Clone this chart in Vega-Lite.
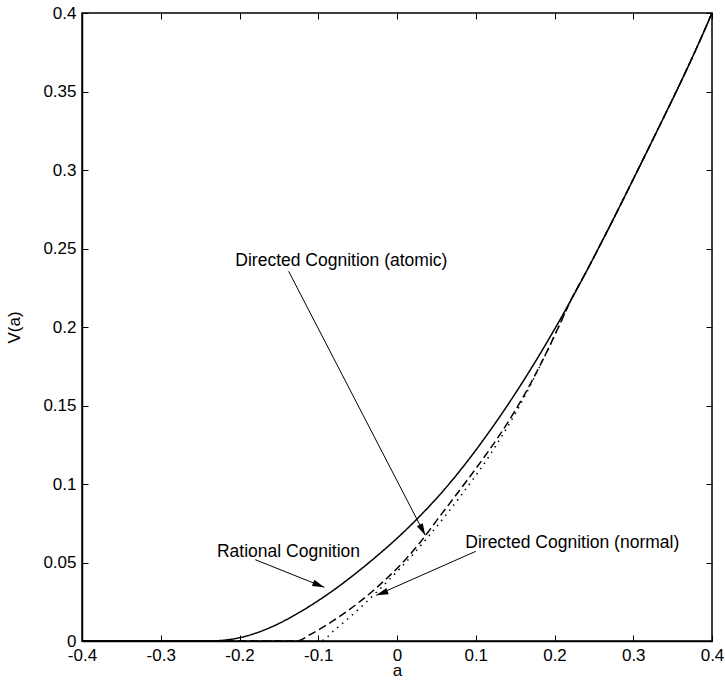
{
  "$schema": "https://vega.github.io/schema/vega-lite/v6.json",
  "autosize": "none",
  "width": 630,
  "height": 628,
  "padding": {"left": 82, "top": 13, "right": 13, "bottom": 43},
  "background": "white",
  "config": {
    "font": "Liberation Sans",
    "view": {"stroke": "black", "strokeWidth": 1.5},
    "axis": {
      "grid": false,
      "domainColor": "black",
      "domainWidth": 1.5,
      "tickColor": "black",
      "tickWidth": 1,
      "labelFont": "Liberation Sans",
      "labelFontSize": 17,
      "labelColor": "black",
      "titleFont": "Liberation Sans",
      "titleFontSize": 17,
      "titleFontWeight": "normal",
      "titleColor": "black"
    }
  },
  "datasets": {
    "curves": [
      {"series": "Rational", "a": -0.4, "v": 0},
      {"series": "Rational", "a": -0.3, "v": 0},
      {"series": "Rational", "a": -0.24, "v": 0},
      {"series": "Rational", "a": -0.22, "v": 0.0005},
      {"series": "Rational", "a": -0.2, "v": 0.0021},
      {"series": "Rational", "a": -0.18, "v": 0.0049},
      {"series": "Rational", "a": -0.16, "v": 0.0088},
      {"series": "Rational", "a": -0.14, "v": 0.0137},
      {"series": "Rational", "a": -0.12, "v": 0.0194},
      {"series": "Rational", "a": -0.1, "v": 0.0257},
      {"series": "Rational", "a": -0.08, "v": 0.0326},
      {"series": "Rational", "a": -0.06, "v": 0.0401},
      {"series": "Rational", "a": -0.04, "v": 0.0481},
      {"series": "Rational", "a": -0.02, "v": 0.0565},
      {"series": "Rational", "a": 0, "v": 0.0654},
      {"series": "Rational", "a": 0.02, "v": 0.075},
      {"series": "Rational", "a": 0.04, "v": 0.0853},
      {"series": "Rational", "a": 0.06, "v": 0.0964},
      {"series": "Rational", "a": 0.08, "v": 0.1085},
      {"series": "Rational", "a": 0.1, "v": 0.1215},
      {"series": "Rational", "a": 0.12, "v": 0.1353},
      {"series": "Rational", "a": 0.14, "v": 0.1499},
      {"series": "Rational", "a": 0.16, "v": 0.1653},
      {"series": "Rational", "a": 0.18, "v": 0.1815},
      {"series": "Rational", "a": 0.2, "v": 0.1985},
      {"series": "Rational", "a": 0.22, "v": 0.2163},
      {"series": "Rational", "a": 0.24, "v": 0.2349},
      {"series": "Rational", "a": 0.26, "v": 0.2542},
      {"series": "Rational", "a": 0.28, "v": 0.274},
      {"series": "Rational", "a": 0.3, "v": 0.2941},
      {"series": "Rational", "a": 0.32, "v": 0.3144},
      {"series": "Rational", "a": 0.34, "v": 0.3349},
      {"series": "Rational", "a": 0.36, "v": 0.3556},
      {"series": "Rational", "a": 0.38, "v": 0.3772},
      {"series": "Rational", "a": 0.4, "v": 0.4},
      {"series": "Atomic", "a": -0.4, "v": 0},
      {"series": "Atomic", "a": -0.127, "v": 0},
      {"series": "Atomic", "a": -0.11, "v": 0.0042},
      {"series": "Atomic", "a": -0.09, "v": 0.01},
      {"series": "Atomic", "a": -0.07, "v": 0.0166},
      {"series": "Atomic", "a": -0.05, "v": 0.024},
      {"series": "Atomic", "a": -0.03, "v": 0.0322},
      {"series": "Atomic", "a": -0.01, "v": 0.0413},
      {"series": "Atomic", "a": 0.01, "v": 0.0515},
      {"series": "Atomic", "a": 0.03, "v": 0.0632},
      {"series": "Atomic", "a": 0.05, "v": 0.0765},
      {"series": "Atomic", "a": 0.07, "v": 0.0897},
      {"series": "Atomic", "a": 0.09, "v": 0.103},
      {"series": "Atomic", "a": 0.11, "v": 0.1166},
      {"series": "Atomic", "a": 0.13, "v": 0.131},
      {"series": "Atomic", "a": 0.15, "v": 0.1467},
      {"series": "Atomic", "a": 0.17, "v": 0.1643},
      {"series": "Atomic", "a": 0.19, "v": 0.184},
      {"series": "Atomic", "a": 0.21, "v": 0.2053},
      {"series": "Atomic", "a": 0.22, "v": 0.2163},
      {"series": "Atomic", "a": 0.24, "v": 0.2349},
      {"series": "Atomic", "a": 0.26, "v": 0.2542},
      {"series": "Atomic", "a": 0.28, "v": 0.274},
      {"series": "Atomic", "a": 0.3, "v": 0.2941},
      {"series": "Atomic", "a": 0.32, "v": 0.3144},
      {"series": "Atomic", "a": 0.34, "v": 0.3349},
      {"series": "Atomic", "a": 0.36, "v": 0.3556},
      {"series": "Atomic", "a": 0.38, "v": 0.3772},
      {"series": "Atomic", "a": 0.4, "v": 0.4},
      {"series": "Normal", "a": -0.4, "v": 0},
      {"series": "Normal", "a": -0.097, "v": 0},
      {"series": "Normal", "a": -0.08, "v": 0.0067},
      {"series": "Normal", "a": -0.06, "v": 0.0152},
      {"series": "Normal", "a": -0.04, "v": 0.0243},
      {"series": "Normal", "a": -0.02, "v": 0.034},
      {"series": "Normal", "a": 0, "v": 0.0442},
      {"series": "Normal", "a": 0.02, "v": 0.055},
      {"series": "Normal", "a": 0.04, "v": 0.0666},
      {"series": "Normal", "a": 0.06, "v": 0.0789},
      {"series": "Normal", "a": 0.08, "v": 0.0918},
      {"series": "Normal", "a": 0.1, "v": 0.1054},
      {"series": "Normal", "a": 0.12, "v": 0.12},
      {"series": "Normal", "a": 0.13, "v": 0.128},
      {"series": "Normal", "a": 0.15, "v": 0.1447},
      {"series": "Normal", "a": 0.17, "v": 0.1635},
      {"series": "Normal", "a": 0.19, "v": 0.1838},
      {"series": "Normal", "a": 0.21, "v": 0.2053},
      {"series": "Normal", "a": 0.22, "v": 0.2163},
      {"series": "Normal", "a": 0.24, "v": 0.2349},
      {"series": "Normal", "a": 0.26, "v": 0.2542},
      {"series": "Normal", "a": 0.28, "v": 0.274},
      {"series": "Normal", "a": 0.3, "v": 0.2941},
      {"series": "Normal", "a": 0.32, "v": 0.3144},
      {"series": "Normal", "a": 0.34, "v": 0.3349},
      {"series": "Normal", "a": 0.36, "v": 0.3556},
      {"series": "Normal", "a": 0.38, "v": 0.3772},
      {"series": "Normal", "a": 0.4, "v": 0.4}
    ],
    "labels": [
      {"label": "Directed Cognition (atomic)", "a": -0.2053, "v": 0.2418},
      {"label": "Rational Cognition", "a": -0.2286, "v": 0.0567},
      {"label": "Directed Cognition (normal)", "a": 0.0867, "v": 0.0625}
    ],
    "arrows": [
      {"name": "atomic", "a": -0.1376, "v": 0.2355, "a2": 0.0359, "v2": 0.0673},
      {"name": "rational", "a": -0.18, "v": 0.0518, "a2": -0.0923, "v2": 0.0342},
      {"name": "normal", "a": 0.1, "v": 0.0571, "a2": -0.0263, "v2": 0.0291}
    ]
  },
  "resolve": {"axis": {"x": "independent", "y": "independent"}},
  "layer": [
    {
      "data": {"name": "curves"},
      "mark": {"type": "line", "color": "black", "strokeWidth": 1.5, "interpolate": "monotone"},
      "encoding": {
        "x": {
          "field": "a", "type": "quantitative",
          "scale": {"domain": [-0.4, 0.4], "nice": false, "zero": false},
          "axis": {
            "orient": "bottom", "title": "a",
            "values": [-0.4, -0.3, -0.2, -0.1, 0, 0.1, 0.2, 0.3, 0.4],
            "labelExpr": "'' + datum.value",
            "tickSize": -6, "labelPadding": 12, "titlePadding": -1,
            "labelFlush": false, "labelOverlap": false
          }
        },
        "y": {
          "field": "v", "type": "quantitative",
          "scale": {"domain": [0, 0.4], "nice": false, "zero": false},
          "axis": {
            "orient": "left", "title": "V(a)",
            "values": [0, 0.05, 0.1, 0.15, 0.2, 0.25, 0.3, 0.35, 0.4],
            "labelExpr": "'' + datum.value",
            "tickSize": -6, "labelPadding": 12, "titlePadding": 19,
            "labelFlush": false, "labelOverlap": false
          }
        },
        "detail": {"field": "series"},
        "strokeDash": {
          "field": "series", "type": "nominal",
          "scale": {"domain": ["Rational", "Atomic", "Normal"], "range": [[1, 0], [8, 4], [1.5, 5]]},
          "legend": null
        }
      }
    },
    {
      "data": {"name": "labels"},
      "mark": {"type": "text", "align": "left", "baseline": "middle", "fontSize": 17.5, "font": "Liberation Sans", "color": "black"},
      "encoding": {
        "x": {
          "field": "a", "type": "quantitative",
          "scale": {"domain": [-0.4, 0.4], "nice": false, "zero": false},
          "axis": {"orient": "top", "title": null, "labels": false, "domain": false,
                   "values": [-0.4, -0.3, -0.2, -0.1, 0, 0.1, 0.2, 0.3, 0.4], "tickSize": -6}
        },
        "y": {
          "field": "v", "type": "quantitative",
          "scale": {"domain": [0, 0.4], "nice": false, "zero": false},
          "axis": {"orient": "right", "title": null, "labels": false, "domain": false,
                   "values": [0, 0.05, 0.1, 0.15, 0.2, 0.25, 0.3, 0.35, 0.4], "tickSize": -6}
        },
        "text": {"field": "label"}
      }
    },
    {
      "data": {"name": "arrows"},
      "mark": {"type": "rule", "color": "black", "strokeWidth": 1},
      "encoding": {
        "x": {"field": "a", "type": "quantitative", "scale": {"domain": [-0.4, 0.4], "nice": false, "zero": false}, "axis": null},
        "y": {"field": "v", "type": "quantitative", "scale": {"domain": [0, 0.4], "nice": false, "zero": false}, "axis": null},
        "x2": {"field": "a2"},
        "y2": {"field": "v2"}
      }
    },
    {
      "data": {"name": "arrows"},
      "transform": [{"filter": "datum.name === 'atomic'"}],
      "mark": {"type": "point", "shape": "M0,0L-0.28,1L0.28,1Z", "filled": true, "color": "black", "opacity": 1, "size": 576, "angle": 152.6},
      "encoding": {
        "x": {"field": "a2", "type": "quantitative", "scale": {"domain": [-0.4, 0.4], "nice": false, "zero": false}, "axis": null},
        "y": {"field": "v2", "type": "quantitative", "scale": {"domain": [0, 0.4], "nice": false, "zero": false}, "axis": null}
      }
    },
    {
      "data": {"name": "arrows"},
      "transform": [{"filter": "datum.name === 'rational'"}],
      "mark": {"type": "point", "shape": "M0,0L-0.28,1L0.28,1Z", "filled": true, "color": "black", "opacity": 1, "size": 576, "angle": 111.8},
      "encoding": {
        "x": {"field": "a2", "type": "quantitative", "scale": {"domain": [-0.4, 0.4], "nice": false, "zero": false}, "axis": null},
        "y": {"field": "v2", "type": "quantitative", "scale": {"domain": [0, 0.4], "nice": false, "zero": false}, "axis": null}
      }
    },
    {
      "data": {"name": "arrows"},
      "transform": [{"filter": "datum.name === 'normal'"}],
      "mark": {"type": "point", "shape": "M0,0L-0.28,1L0.28,1Z", "filled": true, "color": "black", "opacity": 1, "size": 576, "angle": 249.6},
      "encoding": {
        "x": {"field": "a2", "type": "quantitative", "scale": {"domain": [-0.4, 0.4], "nice": false, "zero": false}, "axis": null},
        "y": {"field": "v2", "type": "quantitative", "scale": {"domain": [0, 0.4], "nice": false, "zero": false}, "axis": null}
      }
    }
  ]
}
